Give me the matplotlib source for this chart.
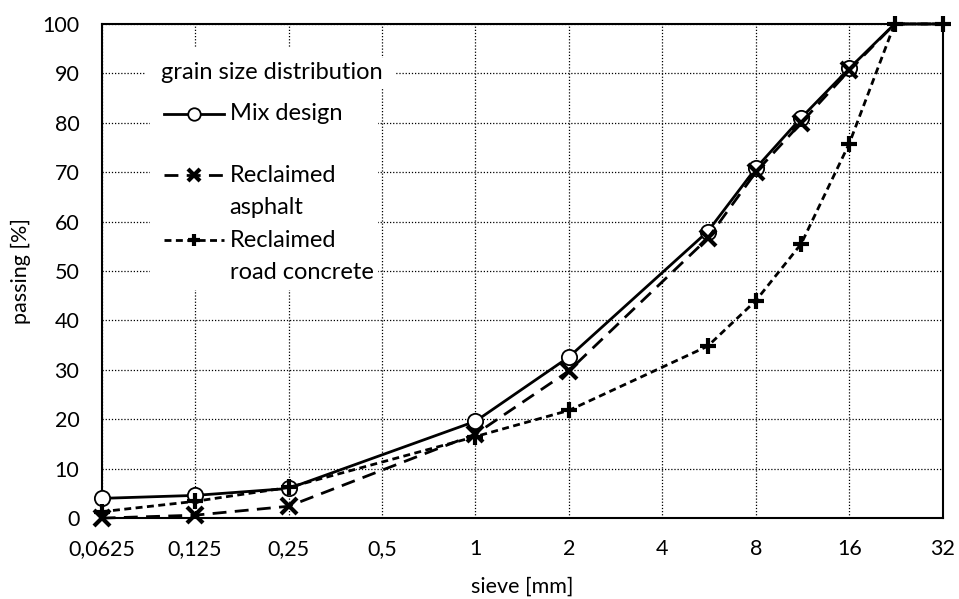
import numpy as np
import matplotlib.pyplot as plt
from matplotlib.patches import Rectangle
from matplotlib.ticker import FixedLocator, FixedFormatter, NullLocator

plt.rcParams['font.family'] = ['Lato', 'DejaVu Sans']

# sieve sizes [mm] and passing [%]
sieves = [0.0625, 0.125, 0.25, 1, 2, 5.6, 8, 11.2, 16, 22.4, 32]
mix_design = [4, 4.6, 6, 19.6, 32.6, 58, 70.8, 81, 91, 100, 100]
reclaimed_asphalt = [0, 0.6, 2.4, 17, 29.8, 56.6, 70, 80, 90.6, 100, 100]
reclaimed_concrete = [1.3, 3.4, 6.2, 16.5, 21.8, 34.8, 44, 55.5, 75.8, 100, 100]

xticks = [0.0625, 0.125, 0.25, 0.5, 1, 2, 4, 8, 16, 32]
xtick_labels = ['0,0625', '0,125', '0,25', '0,5', '1', '2', '4', '8', '16', '32']

legend_title = 'grain size distribution'
series_labels = ['Mix design', 'Reclaimed\nasphalt', 'Reclaimed\nroad concrete']

# line styles per series
styles = [
    dict(color='black', lw=2.0, ls='-', marker='o', mfc='white', mec='black', mew=1.3),
    dict(color='black', lw=2.0, dashes=(5, 3), marker='x', mew=3),
    dict(color='black', lw=2.0, dashes=(2.5, 1.6), marker='+', mew=3),
]
# the two top points only carry the '+' marker in the original
marker_points = [slice(0, 9), slice(0, 9), slice(0, 11)]

fig = plt.figure(figsize=(9.59, 5.99), dpi=100)
ax = fig.add_axes([0.106, 0.135, 0.877, 0.825])

for ys, st, mk, z in zip([mix_design, reclaimed_asphalt, reclaimed_concrete],
                         styles, marker_points, [3, 4, 5]):
    ax.plot(sieves, ys, ms=11, markevery=mk, clip_on=False, zorder=z, **st)

ax.set_xscale('log', base=2)
ax.set_xlim(0.0625, 32)
ax.set_ylim(0, 100)
ax.xaxis.set_major_locator(FixedLocator(xticks))
ax.xaxis.set_major_formatter(FixedFormatter(xtick_labels))
ax.xaxis.set_minor_locator(NullLocator())
ax.set_yticks(np.arange(0, 101, 10))

ax.grid(True, color='black', linestyle=(0, (1, 1.5)), linewidth=0.9)
ax.set_axisbelow(True)
for s in ax.spines.values():
    s.set_linewidth(1.5)
    s.set_color('black')
ax.tick_params(axis='both', length=0, labelsize=15.5)
ax.tick_params(axis='x', pad=15)
ax.tick_params(axis='y', pad=16)

ax.set_xlabel('sieve [mm]', fontsize=15.5, labelpad=13)
ax.set_ylabel('passing [%]', fontsize=15.5, labelpad=8)

# legend drawn by hand (Excel style: handle on first line of wrapped label)
tr = ax.transAxes
ax.add_patch(Rectangle((0.057, 0.4615), 0.271, 0.49, transform=tr,
                       facecolor='white', edgecolor='none', zorder=6))
ax.add_patch(Rectangle((0.051, 0.870), 0.299, 0.061, transform=tr,
                       facecolor='white', edgecolor='none', zorder=6))
ax.text(0.0702, 0.9008, legend_title, transform=tr, fontsize=17,
        va='center', ha='left', zorder=7)

row_y = [0.8180, 0.6943, 0.5628]
line_step = 0.0655
for lab, st, y in zip(series_labels, styles, row_y):
    ax.plot([0.0737, 0.1094, 0.1451], [y, y, y], transform=tr, ms=9,
            markevery=[1], clip_on=False, zorder=7, **st)
    for k, part in enumerate(lab.split('\n')):
        ax.text(0.1522, y - k * line_step, part, transform=tr, fontsize=17,
                va='center', ha='left', zorder=7)

fig.savefig('out.png', dpi=100)
